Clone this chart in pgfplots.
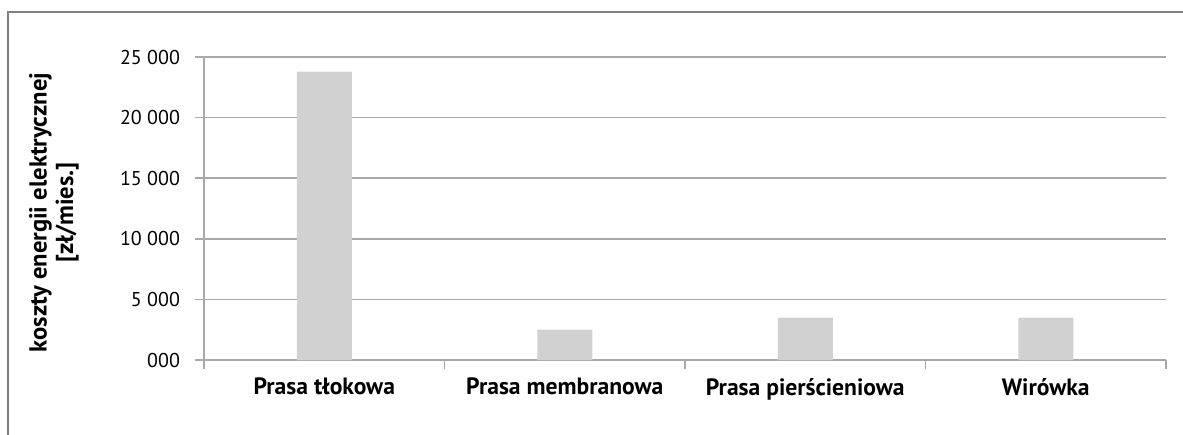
\documentclass[border=0pt]{standalone}
\usepackage{pgfplots}
\pgfplotsset{compat=1.18}
\usepackage{fontspec}
\setmainfont{PT Sans}
\definecolor{gridc}{RGB}{168,168,168}
\definecolor{barc}{RGB}{208,209,208}
\definecolor{framec}{RGB}{128,128,128}
\begin{document}
\begin{tikzpicture}
\useasboundingbox (0pt,0pt) rectangle (591.5pt,-217pt);
\draw[framec, line width=0.8pt] (4pt,-230pt) -- (4pt,-6pt) -- (600pt,-6pt);
\begin{axis}[
  at={(102pt,-180pt)}, anchor=south west,
  scale only axis, width=481pt, height=151.5pt,
  xmin=0, xmax=4, ymin=0, ymax=25000,
  scaled y ticks=false,
  axis lines*=left,
  axis line style={draw=gridc, line width=0.75pt, -},
  ymajorgrids, grid style={gridc, line width=0.75pt},
  ytick={0,5000,10000,15000,20000,25000},
  yticklabels={000,5 000,10 000,15 000,20 000,25 000},
  yticklabel style={xshift=-4pt},
  xtick={0,1,2,3,4}, xticklabels={},
  extra x ticks={0.5,1.5,2.5,3.5},
  extra x tick labels={Prasa tłokowa,Prasa membranowa,Prasa pierścieniowa,Wirówka},
  extra x tick style={major tick length=0pt, tick label style={font=\bfseries\fontsize{11.8}{13}\selectfont, yshift=-5.5pt}},
  tick align=outside, major tick length=4.5pt,
  tick style={gridc, line width=0.75pt},
  ticklabel style={font=\fontsize{10}{12}\selectfont},
  every axis y label/.style={at={(rel axis cs:0,0.5)}, rotate=90, anchor=center, yshift=75pt, xshift=-2pt, align=center, font=\bfseries\fontsize{12.3}{13.2}\selectfont},
  ylabel={koszty energii elektrycznej\\{}[zł/mies.]},
]
\addplot[ybar, bar width=27.5pt, fill=barc, draw=none] coordinates {(0.5,23800) (1.5,2500) (2.5,3500) (3.5,3500)};
\end{axis}
\end{tikzpicture}
\end{document}
